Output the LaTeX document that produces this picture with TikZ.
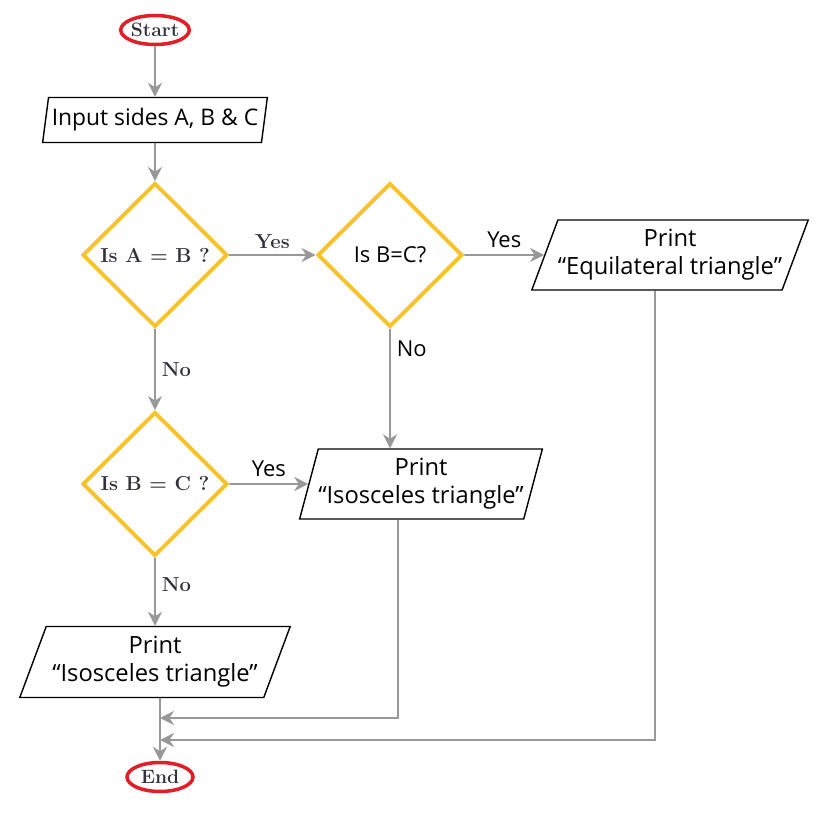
\documentclass[tikz,border=0pt]{standalone}
\usepackage{fontspec}
\newfontfamily\printfont{Open Sans}
\usetikzlibrary{shapes,arrows.meta,positioning,calc}
\definecolor{flowgray}{RGB}{152,152,152}
\definecolor{termred}{RGB}{226,30,38}
\definecolor{deciyellow}{RGB}{247,195,40}
\definecolor{inkgray}{RGB}{50,50,60}

\begin{document}
\begin{tikzpicture}[x=0.02cm,y=-0.02cm,
	line/.style={draw=flowgray,line width=1.1pt,-{Stealth[length=8pt,width=8pt]}},
	terminal/.style={draw=termred,ellipse,line width=2pt,
		minimum width=1.32cm,minimum height=0.58cm,inner sep=0pt,
		font=\fontsize{11}{12}\selectfont\bfseries,text=inkgray},
	decision/.style={draw=deciyellow,diamond,line width=2.2pt,
		minimum width=2.9cm,minimum height=2.88cm,inner sep=0pt},
	io/.style={draw,trapezium,trapezium stretches,line width=0.8pt,
		align=center,inner sep=0pt,font=\printfont\fontsize{13.5}{16}\selectfont},
	serif/.style={font=\fontsize{11.5}{12}\selectfont\bfseries,text=inkgray},
	sans/.style={font=\printfont\fontsize{12.5}{14}\selectfont}]

		\useasboundingbox (0,0) rectangle (816,815);

		\node[terminal] (start) at (155,30) {Start};

		\node[io,
			trapezium left angle = 76,
			trapezium right angle = 104,
			minimum width=4.5cm,
			minimum height=0.9cm,
			font=\printfont\fontsize{13}{16}\selectfont] (input) at (155,120) {Input sides A, B \& C};

		\node[decision,serif] (isab) at (155,255) {Is A = B ?};

		\node[decision,sans] (isbc) at (390,255) {Is B=C?};

		\node[io,
			trapezium left angle = 63,
			trapezium right angle = 117,
			minimum width=5.4cm,
			minimum height=1.4cm] (equi) at (670,255) {Print\\“Equilateral triangle”};

		\node[decision,serif] (isbc2) at (155,484) {Is B = C ?};

		\node[io,
			trapezium left angle = 70,
			trapezium right angle = 110,
			minimum width=4.76cm,
			minimum height=1.4cm] (isos) at (421,484) {Print\\“Isosceles triangle”};

		\node[io,
			trapezium left angle = 64,
			trapezium right angle = 116,
			minimum width=5.42cm,
			minimum height=1.42cm] (isos2) at (155,662) {Print\\“Isosceles triangle”};

		\node[terminal] (end) at (160,777) {End};

		\coordinate (m1) at (398,718);
		\coordinate (m2) at (655,740);

		\draw[line] (start) -- (input);
		\draw[line] (input) -- (isab);
		\draw[line] (isab) -- node[serif,above]{Yes} (isbc);
		\draw[line] (isbc) -- node[sans,above]{Yes} (equi);
		\draw[line] (isbc.south) -- node[sans,right,pos=0.17]{No} (isbc.south |- isos.north);
		\draw[line] (isab) -- node[serif,right]{No} (isbc2);
		\draw[line] (isbc2) -- node[sans,above]{Yes} (isos);
		\draw[line] (isbc2) -- node[serif,right,pos=0.4]{No} (isos2);
		\draw[line] (isos2.south -| end) -- (end);
		\draw[line] (isos.south -| m1) -- (m1) -- (m1 -| end);
		\draw[line] (equi.south -| m2) -- (m2) -- (m2 -| end);

	\end{tikzpicture}
\end{document}
